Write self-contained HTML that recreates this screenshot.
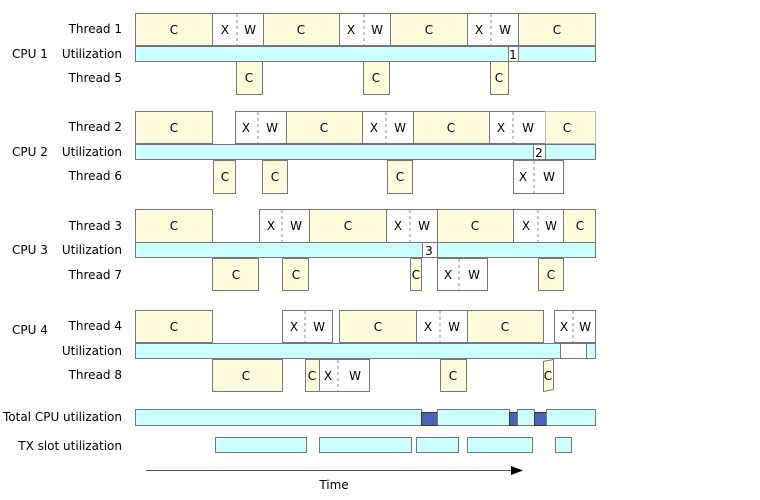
<!DOCTYPE html>
<html><head><meta charset="utf-8"><style>
html,body{margin:0;padding:0;background:#fff;}
svg{display:block;}
text{font-family:"DejaVu Sans","Liberation Sans",sans-serif;font-size:12px;fill:#000;}
.c{fill:#fffbdd;stroke:#777;stroke-width:1;}
.w{fill:#fff;stroke:#777;stroke-width:1;}
.u{fill:#ccffff;stroke:#777;stroke-width:1;}
.d{fill:#4863b8;stroke:#334;stroke-width:1;}
.ds{stroke:#888;stroke-width:1;stroke-dasharray:3,3;}
.m{text-anchor:middle;}
.r{text-anchor:end;}
</style></head><body>
<svg width="760" height="500" xmlns="http://www.w3.org/2000/svg">
<!-- labels -->
<text class="r" x="122" y="33">Thread 1</text>
<text x="12" y="58">CPU 1</text><text class="r" x="122" y="58">Utilization</text>
<text class="r" x="122" y="82">Thread 5</text>
<text class="r" x="122" y="131">Thread 2</text>
<text x="12" y="156">CPU 2</text><text class="r" x="122" y="156">Utilization</text>
<text class="r" x="122" y="180">Thread 6</text>
<text class="r" x="122" y="230">Thread 3</text>
<text x="12" y="254">CPU 3</text><text class="r" x="122" y="254">Utilization</text>
<text class="r" x="122" y="279">Thread 7</text>
<text x="12" y="334">CPU 4</text>
<text class="r" x="122" y="330">Thread 4</text>
<text class="r" x="122" y="355">Utilization</text>
<text class="r" x="122" y="379">Thread 8</text>
<text class="r" x="122" y="421">Total CPU utilization</text>
<text class="r" x="122" y="450">TX slot utilization</text>

<!-- CPU1 -->
<rect class="c" x="135.5" y="13.5" width="77" height="32"/><text class="m" x="174" y="34">C</text>
<rect class="w" x="212.5" y="13.5" width="51" height="32"/><line class="ds" x1="237" y1="14" x2="237" y2="45"/><text class="m" x="225" y="34">X</text><text class="m" x="250" y="34">W</text>
<rect class="c" x="263.5" y="13.5" width="76" height="32"/><text class="m" x="301" y="34">C</text>
<rect class="w" x="339.5" y="13.5" width="51" height="32"/><line class="ds" x1="364" y1="14" x2="364" y2="45"/><text class="m" x="351" y="34">X</text><text class="m" x="377" y="34">W</text>
<rect class="c" x="390.5" y="13.5" width="77" height="32"/><text class="m" x="429" y="34">C</text>
<rect class="w" x="467.5" y="13.5" width="51" height="32"/><line class="ds" x1="491" y1="14" x2="491" y2="45"/><text class="m" x="479" y="34">X</text><text class="m" x="505" y="34">W</text>
<rect class="c" x="518.5" y="13.5" width="77" height="32"/><text class="m" x="557" y="34">C</text>
<rect class="u" x="135.5" y="46.5" width="460" height="15"/>
<rect class="w" x="508.5" y="46.5" width="10" height="15"/><text class="m" x="513" y="59">1</text>
<rect class="c" x="236.5" y="61.5" width="26" height="33"/><text class="m" x="249" y="82">C</text>
<rect class="c" x="363.5" y="61.5" width="26" height="33"/><text class="m" x="376" y="82">C</text>
<rect class="c" x="490.5" y="61.5" width="18" height="33"/><text class="m" x="499" y="82">C</text>

<!-- CPU2 -->
<rect class="c" x="135.5" y="111.5" width="77" height="32"/><text class="m" x="174" y="132">C</text>
<rect class="w" x="235.5" y="111.5" width="51" height="32"/><line class="ds" x1="258" y1="112" x2="258" y2="143"/><text class="m" x="246" y="132">X</text><text class="m" x="272" y="132">W</text>
<rect class="c" x="286.5" y="111.5" width="76" height="32"/><text class="m" x="324" y="132">C</text>
<rect class="w" x="362.5" y="111.5" width="51" height="32"/><line class="ds" x1="386" y1="112" x2="386" y2="143"/><text class="m" x="374" y="132">X</text><text class="m" x="400" y="132">W</text>
<rect class="c" x="413.5" y="111.5" width="76" height="32"/><text class="m" x="451" y="132">C</text>
<rect class="w" x="489.5" y="111.5" width="56" height="32"/><line class="ds" x1="513" y1="112" x2="513" y2="143"/><text class="m" x="501" y="132">X</text><text class="m" x="528" y="132">W</text>
<rect class="c" x="545.5" y="111.5" width="50" height="32" style="stroke:#bbb"/><text class="m" x="567" y="132">C</text>
<rect class="u" x="135.5" y="144.5" width="460" height="15"/>
<rect class="w" x="533.5" y="144.5" width="12" height="15"/><text class="m" x="539" y="157">2</text>
<rect class="c" x="213.5" y="160.5" width="22" height="33"/><text class="m" x="225" y="181">C</text>
<rect class="c" x="262.5" y="160.5" width="25" height="33"/><text class="m" x="275" y="181">C</text>
<rect class="c" x="387.5" y="160.5" width="25" height="33"/><text class="m" x="400" y="181">C</text>
<rect class="w" x="513.5" y="160.5" width="50" height="33"/><line class="ds" x1="534" y1="161" x2="534" y2="193"/><text class="m" x="523" y="181">X</text><text class="m" x="549" y="181">W</text>

<!-- CPU3 -->
<rect class="c" x="135.5" y="209.5" width="77" height="33"/><text class="m" x="174" y="230">C</text>
<rect class="w" x="259.5" y="209.5" width="50" height="33"/><line class="ds" x1="282" y1="210" x2="282" y2="242"/><text class="m" x="271" y="230">X</text><text class="m" x="296" y="230">W</text>
<rect class="c" x="309.5" y="209.5" width="77" height="33"/><text class="m" x="348" y="230">C</text>
<rect class="w" x="386.5" y="209.5" width="51" height="33"/><line class="ds" x1="410" y1="210" x2="410" y2="242"/><text class="m" x="398" y="230">X</text><text class="m" x="424" y="230">W</text>
<rect class="c" x="437.5" y="209.5" width="76" height="33"/><text class="m" x="475" y="230">C</text>
<rect class="w" x="513.5" y="209.5" width="50" height="33"/><line class="ds" x1="538" y1="210" x2="538" y2="242"/><text class="m" x="526" y="230">X</text><text class="m" x="551" y="230">W</text>
<rect class="c" x="563.5" y="209.5" width="32" height="33"/><text class="m" x="580" y="230">C</text>
<rect class="u" x="135.5" y="242.5" width="460" height="15"/>
<rect class="w" x="422.5" y="242.5" width="15" height="15"/><text class="m" x="429" y="255">3</text>
<rect class="c" x="212.5" y="258.5" width="46" height="32"/><text class="m" x="236" y="279">C</text>
<rect class="c" x="282.5" y="258.5" width="26" height="32"/><text class="m" x="296" y="279">C</text>
<rect class="c" x="410.5" y="258.5" width="11" height="32"/><text class="m" x="416" y="279">C</text>
<rect class="w" x="437.5" y="258.5" width="50" height="32"/><line class="ds" x1="459" y1="259" x2="459" y2="290"/><text class="m" x="448" y="279">X</text><text class="m" x="474" y="279">W</text>
<rect class="c" x="538.5" y="258.5" width="25" height="32"/><text class="m" x="551" y="279">C</text>

<!-- CPU4 -->
<rect class="c" x="135.5" y="310.5" width="77" height="32"/><text class="m" x="174" y="331">C</text>
<rect class="w" x="282.5" y="310.5" width="50" height="32"/><line class="ds" x1="305" y1="311" x2="305" y2="342"/><text class="m" x="294" y="331">X</text><text class="m" x="319" y="331">W</text>
<rect class="c" x="339.5" y="310.5" width="77" height="32"/><text class="m" x="378" y="331">C</text>
<rect class="w" x="416.5" y="310.5" width="51" height="32"/><line class="ds" x1="440" y1="311" x2="440" y2="342"/><text class="m" x="428" y="331">X</text><text class="m" x="454" y="331">W</text>
<rect class="c" x="467.5" y="310.5" width="76" height="32"/><text class="m" x="505" y="331">C</text>
<rect class="w" x="554.5" y="310.5" width="41" height="32"/><line class="ds" x1="573" y1="311" x2="573" y2="342"/><text class="m" x="564" y="331">X</text><text class="m" x="585" y="331">W</text>
<rect class="u" x="135.5" y="343.5" width="460" height="15"/>
<rect class="w" x="560.5" y="343.5" width="26" height="15"/>
<rect class="c" x="212.5" y="359.5" width="70" height="32"/><text class="m" x="246" y="380">C</text>
<rect class="c" x="305.5" y="359.5" width="14" height="32"/><text class="m" x="312" y="380">C</text>
<rect class="w" x="319.5" y="359.5" width="50" height="32"/><line class="ds" x1="338" y1="360" x2="338" y2="391"/><text class="m" x="328" y="380">X</text><text class="m" x="355" y="380">W</text>
<rect class="c" x="440.5" y="359.5" width="26" height="32"/><text class="m" x="453" y="380">C</text>
<polygon class="c" points="543.5,361.5 553.5,359.5 553.5,389.5 543.5,391.5"/><text class="m" x="548" y="380">C</text>

<!-- Total -->
<rect class="u" x="135.5" y="409.5" width="286" height="16"/>
<rect class="d" x="421.5" y="412.5" width="16" height="13"/>
<rect class="u" x="437.5" y="409.5" width="72" height="16"/>
<rect class="d" x="509.5" y="412.5" width="8" height="13"/>
<rect class="u" x="517.5" y="409.5" width="17" height="16"/>
<rect class="d" x="534.5" y="412.5" width="12" height="13"/>
<rect class="u" x="546.5" y="409.5" width="49" height="16"/>

<!-- TX -->
<rect class="u" x="215.5" y="437.5" width="91" height="15"/>
<rect class="u" x="319.5" y="437.5" width="92" height="15"/>
<rect class="u" x="416.5" y="437.5" width="42" height="15"/>
<rect class="u" x="467.5" y="437.5" width="65" height="15"/>
<rect class="u" x="555.5" y="437.5" width="16" height="15"/>

<!-- arrow -->
<line x1="146" y1="470.5" x2="512" y2="470.5" stroke="#555" stroke-width="1"/>
<polygon points="511,466 523,470.5 511,475" fill="#000"/>
<text class="m" x="334" y="489">Time</text>
</svg>
</body></html>
